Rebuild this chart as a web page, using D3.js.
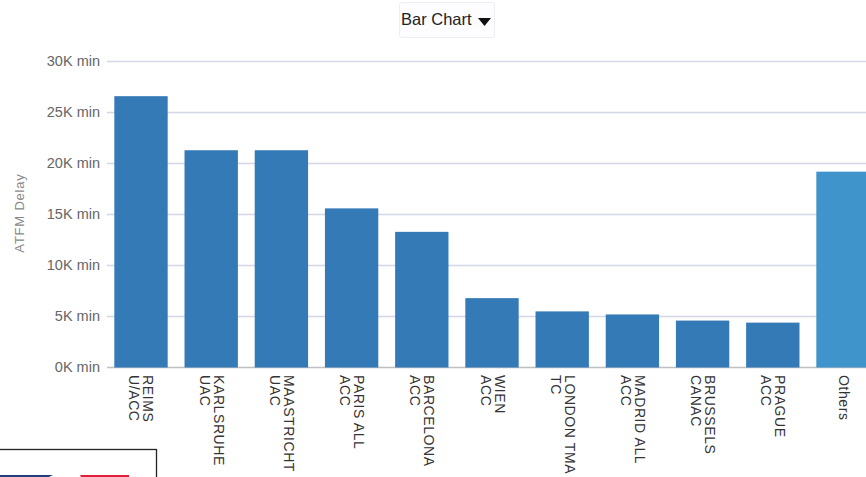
<!DOCTYPE html>
<html><head><meta charset="utf-8">
<script src="https://cdn.jsdelivr.net/npm/d3@7"></script>
<style>html,body{margin:0;padding:0;background:#fff;overflow:hidden}svg{display:block}text{font-family:"Liberation Sans",Arial,sans-serif}</style>
</head><body><svg id="c" width="866" height="477"></svg>
<script>
const categories=[["REIMS","U/ACC"],["KARLSRUHE","UAC"],["MAASTRICHT","UAC"],["PARIS ALL","ACC"],["BARCELONA","ACC"],["WIEN","ACC"],["LONDON TMA","TC"],["MADRID ALL","ACC"],["BRUSSELS","CANAC"],["PRAGUE","ACC"],["Others"]];
const values=[26600,21300,21300,15600,13300,6800,5500,5200,4600,4400,19200];
const barColors=["#337ab7","#337ab7","#337ab7","#337ab7","#337ab7","#337ab7","#337ab7","#337ab7","#337ab7","#337ab7","#3f94cc"];
const yTicks=[0,5000,10000,15000,20000,25000,30000];
const svg=d3.select("#c");
const y=d3.scaleLinear().domain([0,30000]).range([367.5,61.5]);
const x=d3.scaleBand().domain(d3.range(categories.length)).range([106.6,877.4]).paddingInner(0.24).paddingOuter(0.11);
const g=svg.append("g");
g.selectAll("line.grid").data(yTicks).join("line").attr("class","grid")
 .attr("x1",107).attr("x2",866).attr("y1",d=>y(d)).attr("y2",d=>y(d))
 .attr("stroke",d=>d===0?"#c0c0c0":"#d3d6e6").attr("stroke-width",d=>d===0?1.6:1.3);
g.selectAll("text.yl").data(yTicks).join("text").attr("class","yl")
 .attr("x",100).attr("y",d=>y(d)+4.5).attr("text-anchor","end").attr("font-size",14.5).attr("fill","#666")
 .text(d=>(d/1000)+"K min");
g.selectAll("rect").data(values).join("rect")
 .attr("x",(d,i)=>x(i)).attr("width",x.bandwidth())
 .attr("y",d=>y(d)).attr("height",d=>y(0)-y(d)).attr("fill",(d,i)=>barColors[i]);
const labels=g.selectAll("g.xl").data(categories).join("g").attr("class","xl")
 .attr("transform",(d,i)=>`translate(${x(i)+x.bandwidth()/2-0.5},375) rotate(90)`);
labels.each(function(d){
  const n=d.length;
  d3.select(this).selectAll("text").data(d).join("text")
   .attr("x",0).attr("y",(t,j)=>(j-(n-1)/2)*14+4)
   .attr("font-size",14).attr("letter-spacing",0.6).attr("fill","#333").text(t=>t);
});
svg.append("text").attr("transform","translate(24,213) rotate(-90)").attr("text-anchor","middle")
 .attr("font-size",13).attr("letter-spacing",0.8).attr("fill","#888").text("ATFM Delay");
// dropdown
svg.append("rect").attr("x",399.5).attr("y",2.5).attr("width",95).attr("height",35).attr("rx",2).attr("fill","#fdfdff").attr("stroke","#eceef2");
svg.append("text").attr("x",401).attr("y",25).attr("font-size",16.5).attr("fill","#222").text("Bar Chart");
svg.append("path").attr("d",d3.line()([[478,18],[491,18],[484.5,26]])+"Z").attr("fill","#111");
// image box
svg.append("rect").attr("x",-2).attr("y",449.5).attr("width",158.5).attr("height",40).attr("fill","#fff").attr("stroke","#222").attr("stroke-width",1.3);
svg.append("path").attr("d",d3.line()([[0,475],[53,475],[49,477],[0,477]])+"Z").attr("fill","#1f3f82");
svg.append("path").attr("d",d3.line()([[80,475],[129,475],[129,477],[81,477]])+"Z").attr("fill","#e0203a");
</script></body></html>
